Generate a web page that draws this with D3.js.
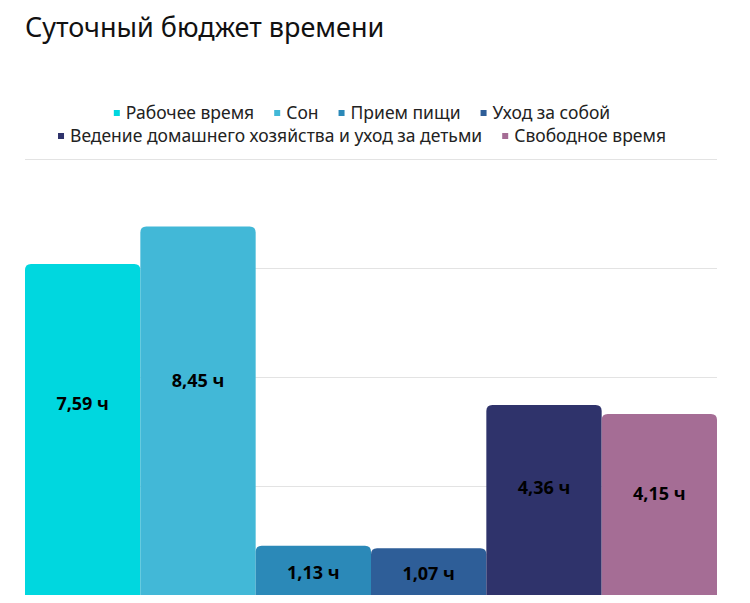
<!DOCTYPE html>
<html lang="ru">
  <head>
    <meta charset="utf-8">
    <title>Суточный бюджет времени</title>
    <style>
      body { margin: 0; background: #fff; }
      svg { display: block; }
    </style>
  </head>
  <body>
    <svg width="750" height="603"></svg>
    <script src="https://cdn.jsdelivr.net/npm/d3@7"></script>
    <script>
      // data
      const categories = ['Рабочее время', 'Сон', 'Прием пищи', 'Уход за собой',
        'Ведение домашнего хозяйства и уход за детьми', 'Свободное время'];
      const hours = [7.59, 8.45, 1.13, 1.07, 4.36, 4.15];
      const colors = ['#00d7df', '#42b8d7', '#2b89b8', '#2e5e98', '#2f336b', '#a56d95'];
      const y_ticks = [0, 2.5, 5, 7.5, 10];
      const legend_rows = [[0, 1, 2, 3], [4, 5]];

      const svg = d3.select('svg');
      const margin = {top: 159, right: 33, bottom: 8, left: 25};
      const svg_width = +svg.attr('width');
      const svg_height = +svg.attr('height');

      const x_scale = d3.scaleBand()
        .domain(categories)
        .range([margin.left, svg_width - margin.right])
        .padding(0);

      const y_scale = d3.scaleLinear()
        .domain([0, 10])
        .range([svg_height - margin.bottom, margin.top]);

      // title
      svg.append('text')
        .attr('x', 25)
        .attr('y', 37)
        .attr('font-family', 'Noto Sans, sans-serif')
        .attr('font-size', '27px')
        .attr('fill', '#111')
        .text('Суточный бюджет времени');

      // gridlines
      svg.append('g')
        .selectAll('line')
        .data(y_ticks.slice(1))
        .enter()
        .append('line')
          .attr('x1', margin.left)
          .attr('x2', svg_width - margin.right)
          .attr('y1', d => y_scale(d) + 0.5)
          .attr('y2', d => y_scale(d) + 0.5)
          .attr('stroke', '#e3e3e3')
          .attr('stroke-width', 1);

      // bars with rounded top corners
      const r = 6;
      const bar_path = (d, i) => {
        const x0 = x_scale(categories[i]);
        const x1 = x0 + x_scale.bandwidth();
        const y0 = y_scale(0);
        const y1 = y_scale(d);
        return `M${x0},${y0}V${y1 + r}Q${x0},${y1} ${x0 + r},${y1}` +
          `H${x1 - r}Q${x1},${y1} ${x1},${y1 + r}V${y0}Z`;
      };

      svg.append('g')
        .selectAll('path')
        .data(hours)
        .enter()
        .append('path')
          .attr('d', bar_path)
          .attr('fill', (d, i) => colors[i]);

      // value labels
      svg.append('g')
        .selectAll('text')
        .data(hours)
        .enter()
        .append('text')
          .attr('x', (d, i) => x_scale(categories[i]) + x_scale.bandwidth() / 2)
          .attr('y', d => {
            const h = y_scale(0) - y_scale(d);
            return y_scale(d) + 0.4 * h + 7;
          })
          .attr('dy', '0.35em')
          .attr('text-anchor', 'middle')
          .attr('font-family', 'Open Sans, sans-serif')
          .attr('font-weight', 'bold')
          .attr('font-size', '18px')
          .attr('fill', '#000')
          .text(d => d.toFixed(2).replace('.', ',') + ' ч');

      // legend
      const legend_g = svg.append('g');
      const row_y = [113, 136];
      const center_x = 362;
      legend_rows.forEach((row, ri) => {
        const row_g = legend_g.append('g');
        let cx = 0;
        row.forEach(ci => {
          row_g.append('rect')
            .attr('x', cx)
            .attr('y', row_y[ri] - 3)
            .attr('width', 6)
            .attr('height', 6)
            .attr('fill', colors[ci]);
          const t = row_g.append('text')
            .attr('x', cx + 12)
            .attr('y', row_y[ri])
            .attr('dy', '0.35em')
            .attr('font-family', 'Noto Sans, sans-serif')
            .attr('font-size', '17.5px')
            .attr('fill', '#222')
            .text(categories[ci]);
          cx += 12 + t.node().getComputedTextLength() + 20;
        });
        const w = cx - 20;
        row_g.attr('transform', `translate(${center_x - w / 2},0)`);
      });
    </script>
  </body>
</html>
